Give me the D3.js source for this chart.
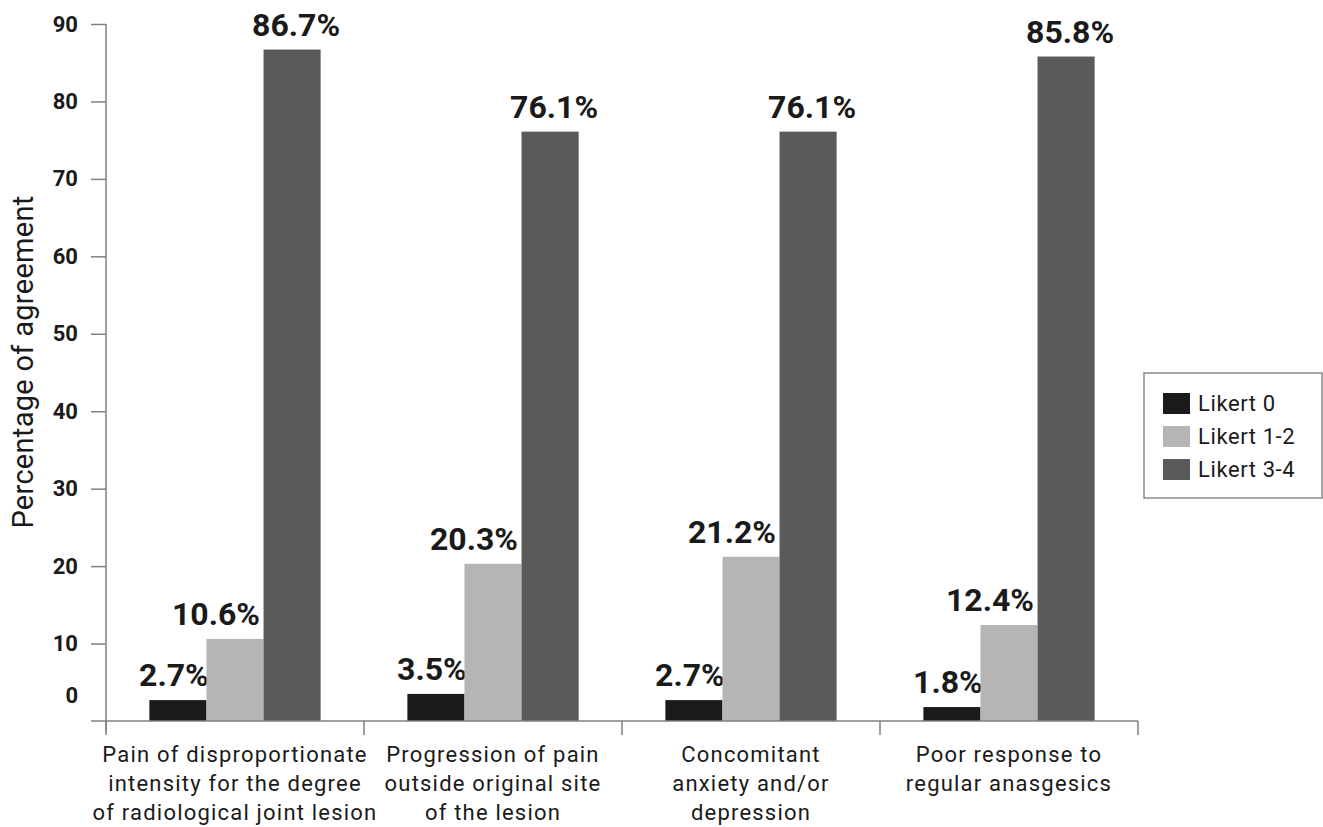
<!DOCTYPE html>
<html>
<head>
<meta charset="utf-8">
<script src="https://cdn.jsdelivr.net/npm/d3@7"></script>
<style>
body { margin: 0; background: #fff; }
svg { display: block; font-family: Roboto, "DejaVu Sans", sans-serif; }
</style>
</head>
<body>
<svg id="chart" width="1323" height="827"></svg>
<script>
(function(){

// data
var categories = ["pain", "progression", "anxiety", "response"];
var categoryLines = [
	["Pain of disproportionate", "intensity for the degree", "of radiological joint lesion"],
	["Progression of pain", "outside original site", "of the lesion"],
	["Concomitant", "anxiety and/or", "depression"],
	["Poor response to", "regular anasgesics"]
];
var seriesNames = ["Likert 0", "Likert 1-2", "Likert 3-4"];
var likert0 = [2.7, 3.5, 2.7, 1.8];
var likert12 = [10.6, 20.3, 21.2, 12.4];
var likert34 = [86.7, 76.1, 76.1, 85.8];
var yTicks = [0, 10, 20, 30, 40, 50, 60, 70, 80, 90];

var seriesValues = [likert0, likert12, likert34];
var colors = ["#1b1b1b", "#b5b5b5", "#5a5a5a"];
var labelShift = [-4, -19, 4];   // labels sit a bit off-centre in the original
var axisColor = "#808080";

var svg = d3.select("#chart");

var left = 106, right = 1138, top = 24, bottom = 721;

var y = d3.scaleLinear().domain([0, 90]).range([bottom, top]);
var x0 = d3.scaleBand().domain(categories).range([left, right]);
var x1 = d3.scaleBand().domain(seriesNames).range([0, x0.bandwidth()]).paddingOuter(0.76);

//BARS
var groups = svg.append("g").selectAll("g")
	.data(categories)
	.enter().append("g")
	.attr("transform", function(d){ return "translate(" + x0(d) + ",0)"; });

groups.each(function(cat, ci){
	var g = d3.select(this);
	seriesNames.forEach(function(s, si){
		var v = seriesValues[si][ci];
		g.append("rect")
			.attr("x", x1(s))
			.attr("y", y(v))
			.attr("width", x1.bandwidth())
			.attr("height", y(0) - y(v))
			.attr("fill", colors[si]);
		g.append("text")
			.attr("x", x1(s) + x1.bandwidth() / 2 + labelShift[si])
			.attr("y", y(v) - 14)
			.attr("text-anchor", "middle")
			.attr("font-size", 32)
			.attr("font-weight", "bold")
			.attr("fill", "#1a1a1a")
			.text(v.toFixed(1) + "%");
	});
});

//Y AXIS
var yAxis = d3.axisLeft(y).tickValues(yTicks).tickSize(15).tickPadding(13).tickFormat(d3.format("d"));
var yg = svg.append("g")
	.attr("transform", "translate(" + left + ",0)")
	.call(yAxis);
yg.attr("font-size", null).attr("font-family", null);
yg.select(".domain").attr("stroke", axisColor).attr("stroke-width", 1.5)
	.attr("d", "M0," + top + "V" + (bottom + 10));
yg.selectAll(".tick line").attr("stroke", axisColor).attr("stroke-width", 1.5);
yg.selectAll(".tick text")
	.style("font-family", "Roboto, sans-serif")
	.style("font-size", "22px")
	.style("font-weight", "bold")
	.attr("fill", "#1a1a1a");
// the zero label is raised above the baseline in the original
yg.selectAll(".tick").filter(function(d){ return d === 0; })
	.select("text").attr("dy", "-0.85em");
yg.selectAll(".tick").filter(function(d){ return d === 0; })
	.select("line").remove();

svg.append("text")
	.attr("transform", "translate(33,362) rotate(-90)")
	.attr("text-anchor", "middle")
	.attr("font-size", 29)
	.attr("letter-spacing", 0.3)
	.attr("fill", "#1a1a1a")
	.text("Percentage of agreement");

//X AXIS
svg.append("line")
	.attr("x1", left - 15).attr("x2", right)
	.attr("y1", bottom).attr("y2", bottom)
	.attr("stroke", axisColor).attr("stroke-width", 1.5);

var bounds = categories.map(function(d){ return x0(d); }).concat([right]);
svg.append("g").selectAll("line")
	.data(bounds)
	.enter().append("line")
	.attr("x1", function(d){ return d; }).attr("x2", function(d){ return d; })
	.attr("y1", bottom).attr("y2", bottom + 14)
	.attr("stroke", axisColor).attr("stroke-width", 1.5);

var catLabels = svg.append("g").selectAll("text")
	.data(categories)
	.enter().append("text")
	.attr("text-anchor", "middle")
	.attr("font-size", 22)
	.attr("letter-spacing", 1.2)
	.attr("fill", "#1a1a1a");
catLabels.each(function(d, i){
	var t = d3.select(this);
	categoryLines[i].forEach(function(line, li){
		t.append("tspan")
			.attr("x", x0(d) + x0.bandwidth() / 2)
			.attr("y", 762 + li * 29)
			.text(line);
	});
});

//LEGEND
var legend = svg.append("g");
legend.append("rect")
	.attr("x", 1144).attr("y", 373)
	.attr("width", 178).attr("height", 125)
	.attr("fill", "#fff")
	.attr("stroke", "#8a8a8a")
	.attr("stroke-width", 1.5);
seriesNames.forEach(function(s, i){
	legend.append("rect")
		.attr("x", 1163).attr("y", 393 + i * 33)
		.attr("width", 27).attr("height", 21)
		.attr("fill", colors[i]);
	legend.append("text")
		.attr("x", 1198).attr("y", 411 + i * 33)
		.attr("font-size", 22)
		.attr("letter-spacing", 0.6)
		.attr("fill", "#1a1a1a")
		.text(s);
});

})()
</script>
</body>
</html>
